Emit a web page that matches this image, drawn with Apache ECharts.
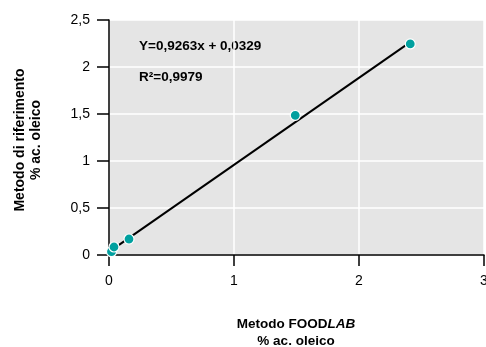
<!DOCTYPE html>
<html>
<head>
<meta charset="utf-8">
<script src="https://cdn.jsdelivr.net/npm/echarts@6/dist/echarts.min.js"></script>
<style>
  html, body { margin: 0; padding: 0; background: #fff; }
  #chart { width: 486px; height: 347px; }
</style>
</head>
<body>
<div id="chart"></div>
<script>
  // valori
  var foodlabX = [0.02, 0.04, 0.16, 1.49, 2.41];
  var riferimentoY = [0.035, 0.085, 0.17, 1.486, 2.245];
  var slope = 0.9263;
  var intercept = 0.0329;
  var r2 = 0.9979;

  var FONT = '"Liberation Sans", Arial, sans-serif';

  function comma(v) {
    return String(v).replace('.', ',');
  }

  var points = foodlabX.map(function (x, i) { return [x, riferimentoY[i]]; });
  var xMin = Math.min.apply(null, foodlabX);
  var xMax = Math.max.apply(null, foodlabX);
  var fitLine = [[xMin, slope * xMin + intercept], [xMax, slope * xMax + intercept]];

  var chart = echarts.init(document.getElementById('chart'));
  var option = {
    animation: false,
    grid: {
      left: 109,
      right: 2,
      top: 20,
      bottom: 92,
      outerBoundsMode: 'none',
      containLabel: false,
      show: true,
      backgroundColor: '#e5e5e5',
      borderWidth: 0
    },
    xAxis: {
      type: 'value',
      min: 0,
      max: 3,
      interval: 1,
      axisLine: { show: true, onZero: false, lineStyle: { color: '#000', width: 1.5 } },
      axisTick: { show: true, length: 11, lineStyle: { color: '#000', width: 1.5 } },
      axisLabel: { color: '#000', fontFamily: FONT, fontSize: 14, margin: 19, formatter: comma },
      splitLine: { show: true, lineStyle: { color: '#fff', width: 1.5 } }
    },
    yAxis: {
      type: 'value',
      min: 0,
      max: 2.5,
      interval: 0.5,
      axisLine: { show: true, onZero: false, lineStyle: { color: '#000', width: 1.5 } },
      axisTick: { show: true, length: 12, lineStyle: { color: '#000', width: 1.5 } },
      axisLabel: { color: '#000', fontFamily: FONT, fontSize: 14, margin: 19, formatter: comma },
      splitLine: { show: true, lineStyle: { color: '#fff', width: 1.5 } }
    },
    series: [{
      type: 'line',
      data: fitLine,
      symbol: 'none',
      lineStyle: { color: '#000', width: 2 },
      z: 2
    }, {
      type: 'scatter',
      data: points,
      symbolSize: 10,
      itemStyle: { color: '#00a09f', borderColor: '#fff', borderWidth: 1.2, opacity: 1 },
      z: 3
    }],
    graphic: [{
      type: 'text',
      left: 139,
      top: 39,
      style: {
        text: 'Y=' + comma(slope) + 'x + ' + comma(intercept),
        font: 'bold 13.5px ' + FONT,
        fill: '#000'
      }
    }, {
      type: 'text',
      left: 139,
      top: 70,
      style: {
        text: 'R\u00b2=' + comma(r2),
        font: 'bold 13.5px ' + FONT,
        fill: '#000'
      }
    }, {
      type: 'text',
      x: 296,
      y: 316,
      style: {
        text: '{b|Metodo FOOD}{i|LAB}\n{b|% ac. oleico}',
        align: 'center',
        lineHeight: 17,
        rich: {
          b: { font: 'bold 13.5px ' + FONT, fill: '#000', lineHeight: 17 },
          i: { font: 'italic bold 13.5px ' + FONT, fill: '#000', lineHeight: 17 }
        }
      }
    }, {
      type: 'text',
      x: 28,
      y: 140,
      rotation: Math.PI / 2,
      style: {
        text: 'Metodo di riferimento\n% ac. oleico',
        align: 'center',
        verticalAlign: 'middle',
        font: 'bold 14px ' + FONT,
        lineHeight: 16,
        fill: '#000'
      }
    }]
  };
  chart.setOption(option);
</script>
</body>
</html>
